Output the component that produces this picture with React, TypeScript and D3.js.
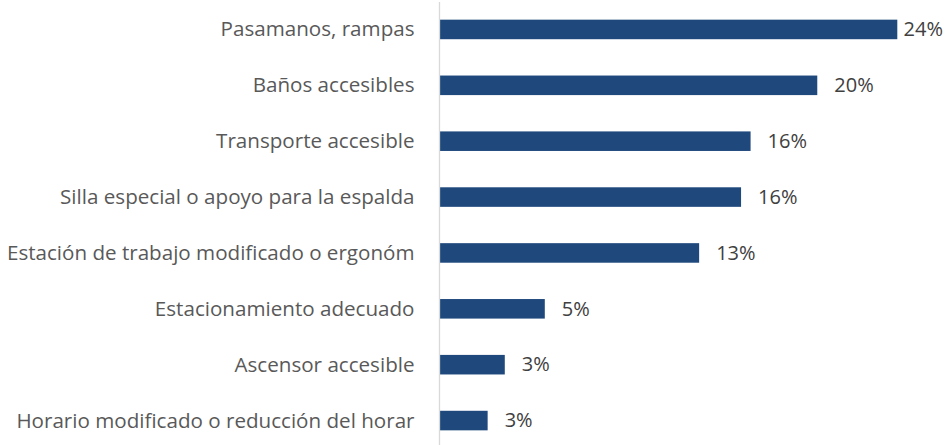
import React, { useRef, useEffect } from "react";
import * as d3 from "d3";
import { select, scaleBand, scaleLinear } from "d3";

// data
const categories = [
  "Pasamanos, rampas",
  "Baños accesibles",
  "Transporte accesible",
  "Silla especial o apoyo para la espalda",
  "Estación de trabajo modificado o ergonóm",
  "Estacionamiento adecuado",
  "Ascensor accesible",
  "Horario modificado o reducción del horar",
];
const values = [24.0, 19.8, 16.3, 15.8, 13.6, 5.5, 3.4, 2.5];
const valueLabels = ["24%", "20%", "16%", "16%", "13%", "5%", "3%", "3%"];

const WIDTH = 945;
const HEIGHT = 445;

const App = () => {
  const svgRef = useRef<SVGSVGElement>(null);

  useEffect(() => {
    svgRef.current!.innerHTML = "";
    const svg = select(svgRef.current);

    const axisX = 439.5;
    const rightEdge = 943;

    //scales
    const yScale = scaleBand()
      .domain(categories)
      .range([1.5, 448.5])
      .paddingInner(0.65)
      .paddingOuter(0.325);

    const xScale = scaleLinear()
      .domain([0, d3.max(values)!])
      .range([440, 897.3]);

    const font = "'Open Sans', sans-serif";

    //bars
    svg
      .append("g")
      .selectAll("rect")
      .data(values)
      .enter()
      .append("rect")
      .attr("x", xScale(0))
      .attr("y", (_, i) => yScale(categories[i])!)
      .attr("width", (d) => xScale(d) - xScale(0))
      .attr("height", yScale.bandwidth())
      .attr("fill", "#1f497d");

    //axis line
    svg
      .append("line")
      .attr("x1", axisX)
      .attr("x2", axisX)
      .attr("y1", 2)
      .attr("y2", HEIGHT)
      .style("stroke", "#d9d9d9")
      .style("stroke-width", 1.3);

    //category labels
    svg
      .append("g")
      .selectAll("text")
      .data(categories)
      .enter()
      .append("text")
      .attr("x", 414.5)
      .attr("y", (d) => yScale(d)! + yScale.bandwidth() / 2)
      .attr("dy", "0.34em")
      .attr("text-anchor", "end")
      .style("font-family", font)
      .style("font-size", "20.6px")
      .attr("fill", "#595959")
      .text((d) => d);

    //value labels, pushed back inside when they overflow the right edge
    svg
      .append("g")
      .selectAll("text")
      .data(values)
      .enter()
      .append("text")
      .attr("y", (_, i) => yScale(categories[i])! + yScale.bandwidth() / 2)
      .attr("dy", "0.34em")
      .style("font-family", font)
      .style("font-size", "20px")
      .attr("fill", "#404040")
      .text((_, i) => valueLabels[i])
      .each(function (d) {
        const el = this as SVGTextElement;
        const w = el.getComputedTextLength();
        const start = Math.min(xScale(d) + 17, rightEdge - w);
        el.setAttribute("x", String(start));
      });
  }, []);

  return (
    <svg
      ref={svgRef}
      width={WIDTH}
      height={HEIGHT}
      style={{ position: "absolute", left: 0, top: 0, background: "#fff" }}
    ></svg>
  );
};

export default App;
